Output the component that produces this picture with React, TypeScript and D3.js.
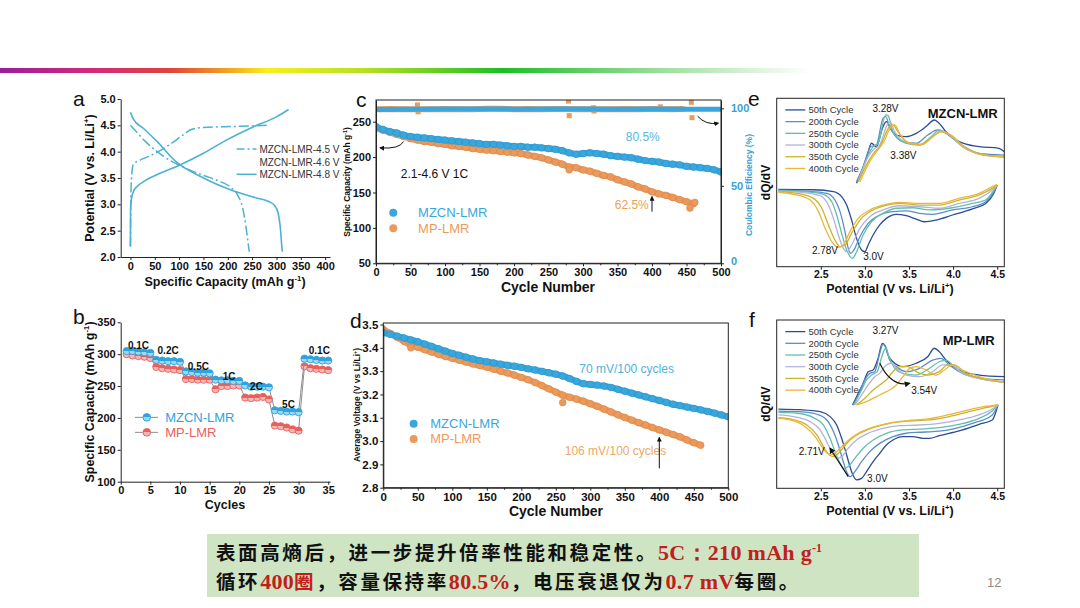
import { useEffect, useRef } from 'react';
import * as d3 from 'd3';

type Pt = [number, number];

const SANS = '"Liberation Sans", Arial, sans-serif';
const SERIF = '"Liberation Serif", "Times New Roman", serif';
const CJK = '"Noto Sans CJK SC", sans-serif';

// ---------- a: charge / discharge profiles (mAh/g, V) ----------
const aXTicks = [0, 50, 100, 150, 200, 250, 300, 350, 400];
const aYTicks = [2.0, 2.5, 3.0, 3.5, 4.0, 4.5, 5.0];
const aLegend = ['MZCN-LMR-4.5 V', 'MZCN-LMR-4.6 V', 'MZCN-LMR-4.8 V'];
const a45Charge: Pt[] = [[0, 2.2], [1, 3.2], [3, 3.6], [6, 3.76], [20, 3.84], [40, 3.92], [80, 4.13], [110, 4.33], [125, 4.42], [150, 4.46], [220, 4.48], [280, 4.5]];
const a45Discharge: Pt[] = [[0, 4.5], [10, 4.4], [30, 4.2], [55, 4.0], [80, 3.84], [110, 3.7], [150, 3.55], [180, 3.45], [205, 3.33], [220, 3.18], [230, 2.95], [237, 2.6], [242, 2.25], [244, 2.1]];
const a48Charge: Pt[] = [[0, 2.2], [0.3, 2.9], [2, 3.1], [6, 3.24], [15, 3.35], [27, 3.43], [54, 3.56], [95, 3.72], [150, 3.97], [197, 4.22], [252, 4.47], [300, 4.66], [325, 4.8]];
const a48Discharge: Pt[] = [[0, 4.75], [3, 4.68], [6, 4.62], [27, 4.44], [54, 4.2], [95, 3.8], [150, 3.5], [204, 3.28], [259, 3.12], [285, 3.05], [296, 2.98], [303, 2.85], [308, 2.55], [311, 2.2], [312, 2.1]];

// ---------- b: rate capability ----------
const bXTicks = [0, 5, 10, 15, 20, 25, 30, 35];
const bYTicks = [100, 150, 200, 250, 300, 350];
const bCycles = d3.range(1, 36);
const bMZCN = [305, 305, 304, 303, 302, 291, 290, 289, 289, 288, 273, 272, 271, 271, 270, 260, 259, 259, 258, 258, 251, 249, 249, 249, 248, 212, 211, 210, 210, 209, 293, 292, 291, 290, 290];
const bMP = [300, 298, 297, 296, 294, 280, 278, 277, 276, 275, 261, 261, 260, 260, 260, 245, 250, 250, 251, 251, 232, 231, 232, 233, 229, 188, 187, 185, 182, 180, 281, 278, 277, 276, 275];
const bRates = ['0.1C', '0.2C', '0.5C', '1C', '2C', '5C', '0.1C'];
const bRateAt: Pt[] = [[3, 308.5], [8, 301], [13.1, 275], [18.3, 260], [22.9, 243.5], [28.3, 215], [33.5, 301]];

// ---------- c: cycling at 1C ----------
const cXTicks = [0, 50, 100, 150, 200, 250, 300, 350, 400, 450, 500];
const cYTicks = [50, 100, 150, 200, 250];
const cY2Ticks = [0, 50, 100];
const cCyclesMZCN = d3.range(0, 501, 10);
const cCyclesMP = d3.range(0, 461, 10);
const cCapMZCN = [243, 239, 236, 234, 231, 229, 228, 227, 226, 225, 224, 223, 222, 221, 220, 219, 218, 218, 217, 216, 215, 215, 214, 214, 213, 212, 211, 209, 206, 204, 205, 206, 205, 204, 202, 201, 200, 199, 197, 195, 194, 193, 191, 190, 189, 187, 186, 185, 184, 182, 179];
const cCapMP = [241, 238, 235, 232, 229, 226, 224, 222, 221, 219, 218, 216, 215, 214, 212, 211, 210, 209, 208, 207, 206, 205, 203, 201, 199, 196, 193, 190, 186, 185, 182, 180, 177, 174, 172, 168, 165, 162, 158, 155, 151, 148, 146, 143, 140, 137, 134];
const cCapMPOutliers: Pt[] = [[280, 182], [455, 128], [462, 136]];
const cCeMZCN: Pt[] = [[0, 99.2], [50, 99.5], [100, 99.6], [150, 99.6], [200, 99.5], [250, 99.6], [300, 99.6], [350, 99.5], [400, 99.6], [450, 99.5], [500, 99.4]];
const cCeMP: Pt[] = [[0, 99.4], [20, 99.6], [40, 99.5], [60, 102.2], [61, 97.8], [80, 99.5], [100, 99.6], [120, 99.5], [140, 99.4], [160, 99.8], [180, 99.7], [200, 99.5], [220, 99.6], [240, 99.5], [260, 99.6], [279, 104.7], [280, 95.3], [300, 99.5], [315, 100.4], [316, 98.3], [340, 99.5], [360, 99.6], [380, 99.5], [400, 99.6], [412, 101.0], [430, 99.5], [445, 99.6], [457, 103.9], [458, 94.0]];

// ---------- d: average voltage ----------
const dYTicks = [2.8, 2.9, 3.0, 3.1, 3.2, 3.3, 3.4, 3.5];
const dVoltMZCN = [3.465, 3.458, 3.450, 3.442, 3.434, 3.426, 3.416, 3.406, 3.396, 3.386, 3.376, 3.368, 3.360, 3.352, 3.345, 3.340, 3.335, 3.330, 3.325, 3.321, 3.316, 3.310, 3.305, 3.299, 3.293, 3.287, 3.279, 3.268, 3.256, 3.246, 3.243, 3.240, 3.236, 3.230, 3.222, 3.214, 3.206, 3.198, 3.190, 3.182, 3.174, 3.166, 3.158, 3.152, 3.146, 3.140, 3.134, 3.127, 3.120, 3.112, 3.104];
const dVoltMP = [3.478, 3.462, 3.445, 3.428, 3.412, 3.402, 3.392, 3.382, 3.372, 3.363, 3.355, 3.347, 3.339, 3.331, 3.324, 3.317, 3.309, 3.300, 3.292, 3.283, 3.273, 3.263, 3.251, 3.238, 3.224, 3.210, 3.197, 3.188, 3.180, 3.171, 3.160, 3.149, 3.137, 3.125, 3.113, 3.101, 3.090, 3.079, 3.069, 3.058, 3.048, 3.038, 3.028, 3.018, 3.005, 2.993, 2.982];
const dVoltMPOutliers: Pt[] = [[40, 3.40], [260, 3.165]];

// ---------- e / f: dQ/dV (V, a.u.) ----------
const dqXTicks = [2.5, 3.0, 3.5, 4.0, 4.5];
const dqCycles = ['50th Cycle', '200th Cycle', '250th Cycle', '300th Cycle', '350th Cycle', '400th Cycle'];
const dqColors = ['#2b4c95', '#5b8ec6', '#62bfae', '#b4b2da', '#c9b52a', '#ecb63a'];

const e50Charge: Pt[] = [[2.905, 49.5], [2.962, 56.4], [3.037, 68.3], [3.074, 73.3], [3.130, 71.3], [3.205, 83.2], [3.243, 86.1], [3.299, 81.2], [3.356, 78.2], [3.468, 77.2], [3.581, 79.2], [3.693, 83.2], [3.787, 87.1], [3.843, 85.1], [3.918, 80.2], [4.068, 74.3], [4.294, 71.3], [4.519, 70.3], [4.58, 68.3]];
const e200Charge: Pt[] = [[2.905, 50.5], [3.018, 64.4], [3.063, 71.3], [3.130, 72.3], [3.205, 88.1], [3.235, 89.1], [3.280, 83.2], [3.337, 78.2], [3.431, 74.3], [3.581, 73.3], [3.712, 78.2], [3.825, 81.2], [3.918, 79.2], [4.068, 73.3], [4.294, 67.3], [4.58, 66.3]];
const e250Charge: Pt[] = [[2.924, 50.5], [3.037, 66.3], [3.093, 71.3], [3.149, 73.3], [3.235, 90.1], [3.262, 89.7], [3.318, 80.2], [3.374, 76.2], [3.468, 73.3], [3.618, 72.3], [3.750, 77.2], [3.843, 81.2], [3.956, 78.2], [4.106, 71.3], [4.369, 66.3], [4.58, 65.3]];
const e300Charge: Pt[] = [[2.924, 50.5], [3.037, 65.3], [3.112, 70.3], [3.168, 72.3], [3.262, 85.1], [3.288, 85.7], [3.337, 80.2], [3.393, 76.2], [3.506, 73.3], [3.637, 72.3], [3.768, 77.2], [3.862, 80.6], [3.963, 78.2], [4.106, 71.3], [4.369, 66.3], [4.58, 65.3]];
const e350Charge: Pt[] = [[2.924, 50.5], [3.037, 62.4], [3.112, 68.3], [3.168, 71.3], [3.280, 83.2], [3.318, 84.2], [3.374, 80.2], [3.468, 74.3], [3.618, 72.3], [3.768, 77.2], [3.862, 80.2], [3.975, 78.2], [4.143, 70.3], [4.369, 66.3], [4.58, 65.3]];
const e400Charge: Pt[] = [[2.943, 50.5], [3.055, 62.4], [3.130, 68.3], [3.205, 73.3], [3.299, 83.2], [3.337, 84.2], [3.393, 79.2], [3.506, 73.3], [3.656, 72.7], [3.787, 78.2], [3.881, 80.2], [3.993, 77.2], [4.143, 70.3], [4.369, 65.9], [4.58, 65.3]];
const e50Discharge: Pt[] = [[2.02, 45.9], [2.417, 45.7], [2.643, 44.6], [2.736, 41.6], [2.793, 36.6], [2.849, 27.7], [2.905, 16.8], [2.962, 9.9], [2.999, 8.9], [3.037, 12.9], [3.093, 18.8], [3.168, 24.8], [3.243, 28.7], [3.356, 31.1], [3.468, 30.3], [3.581, 28.3], [3.674, 26.7], [3.806, 27.7], [3.993, 30.7], [4.219, 34.3], [4.369, 37.6], [4.462, 43.6], [4.500, 48.5]];
const e200Discharge: Pt[] = [[2.02, 45.5], [2.342, 44.9], [2.568, 43.6], [2.661, 39.6], [2.718, 32.7], [2.774, 20.8], [2.811, 10.9], [2.838, 7.9], [2.875, 9.9], [2.943, 17.8], [3.037, 25.7], [3.168, 30.7], [3.318, 32.7], [3.468, 33.1], [3.618, 31.7], [3.768, 31.1], [3.993, 33.7], [4.219, 35.6], [4.369, 38.6], [4.462, 44.6], [4.500, 48.5]];
const e250Discharge: Pt[] = [[2.02, 45.1], [2.305, 44.6], [2.530, 43.0], [2.624, 38.6], [2.680, 30.7], [2.736, 19.8], [2.793, 9.9], [2.860, 5.0], [2.905, 8.9], [2.980, 18.8], [3.074, 26.7], [3.205, 31.7], [3.356, 34.7], [3.543, 35.0], [3.731, 33.7], [3.993, 35.0], [4.219, 37.6], [4.369, 39.6], [4.462, 45.5], [4.500, 48.5]];
const e300Discharge: Pt[] = [[2.02, 44.9], [2.267, 44.2], [2.492, 42.2], [2.586, 36.6], [2.643, 28.7], [2.699, 18.8], [2.755, 10.9], [2.793, 8.9], [2.849, 12.9], [2.943, 22.8], [3.055, 29.7], [3.205, 33.7], [3.393, 36.2], [3.618, 35.6], [3.843, 34.7], [4.068, 37.6], [4.294, 40.6], [4.444, 45.5], [4.500, 48.5]];
const e350Discharge: Pt[] = [[2.02, 44.6], [2.230, 43.6], [2.417, 40.6], [2.511, 34.7], [2.586, 24.8], [2.661, 15.8], [2.718, 11.9], [2.774, 12.9], [2.849, 19.8], [2.943, 27.7], [3.055, 32.7], [3.205, 36.0], [3.393, 37.6], [3.618, 36.6], [3.843, 36.6], [4.068, 39.6], [4.294, 42.6], [4.444, 46.5], [4.500, 48.5]];
const e400Discharge: Pt[] = [[2.02, 44.2], [2.192, 43.0], [2.380, 39.6], [2.474, 32.7], [2.549, 22.8], [2.624, 14.9], [2.699, 11.5], [2.755, 12.9], [2.830, 20.8], [2.924, 28.7], [3.055, 33.7], [3.205, 36.6], [3.393, 38.2], [3.618, 37.6], [3.843, 37.6], [4.068, 40.6], [4.294, 43.6], [4.444, 47.5], [4.500, 48.9]];

const f50Charge: Pt[] = [[2.860, 49.5], [2.924, 56.4], [2.980, 62.4], [3.037, 69.3], [3.093, 70.3], [3.149, 77.2], [3.198, 86.1], [3.224, 85.1], [3.262, 79.2], [3.318, 75.2], [3.431, 72.3], [3.581, 74.3], [3.712, 78.2], [3.787, 83.2], [3.843, 81.2], [3.918, 76.2], [4.068, 70.3], [4.294, 67.3], [4.58, 66.3]];
const f200Charge: Pt[] = [[2.868, 49.5], [2.943, 57.4], [2.999, 64.4], [3.055, 68.3], [3.112, 69.3], [3.168, 80.2], [3.205, 85.5], [3.243, 83.2], [3.280, 76.2], [3.356, 72.3], [3.468, 69.3], [3.618, 71.3], [3.768, 76.2], [3.862, 77.2], [3.956, 73.3], [4.106, 68.3], [4.331, 65.3], [4.58, 64.4]];
const f250Charge: Pt[] = [[2.875, 49.5], [2.962, 58.4], [3.018, 64.4], [3.074, 67.3], [3.138, 69.3], [3.198, 79.2], [3.235, 83.2], [3.273, 78.2], [3.337, 71.3], [3.431, 68.3], [3.581, 67.3], [3.731, 71.3], [3.843, 75.2], [3.918, 76.2], [4.031, 71.3], [4.219, 66.3], [4.58, 63.0]];
const f300Charge: Pt[] = [[2.886, 49.5], [2.962, 55.4], [3.037, 61.4], [3.112, 66.3], [3.168, 68.3], [3.243, 73.3], [3.299, 74.3], [3.374, 70.3], [3.468, 67.3], [3.618, 66.3], [3.768, 69.3], [3.881, 73.3], [3.975, 73.3], [4.106, 68.3], [4.294, 65.3], [4.58, 63.0]];
const f350Charge: Pt[] = [[2.905, 49.5], [2.999, 53.5], [3.093, 58.4], [3.168, 61.4], [3.243, 64.4], [3.318, 69.3], [3.393, 72.3], [3.487, 72.3], [3.581, 69.3], [3.712, 67.3], [3.843, 69.3], [3.937, 73.3], [4.012, 73.3], [4.143, 68.3], [4.331, 65.3], [4.58, 63.0]];
const f400Charge: Pt[] = [[2.905, 49.5], [3.018, 51.5], [3.130, 54.5], [3.205, 56.4], [3.280, 58.4], [3.356, 61.4], [3.431, 66.3], [3.506, 71.3], [3.581, 72.3], [3.693, 70.3], [3.806, 67.3], [3.900, 70.3], [3.993, 73.3], [4.106, 70.3], [4.294, 66.3], [4.58, 63.0]];
const f50Discharge: Pt[] = [[2.02, 47.1], [2.267, 46.7], [2.492, 45.5], [2.605, 42.6], [2.680, 37.6], [2.736, 29.7], [2.793, 19.8], [2.849, 9.9], [2.905, 5.0], [2.962, 5.9], [3.018, 9.9], [3.093, 15.8], [3.168, 20.8], [3.243, 25.7], [3.318, 28.7], [3.431, 30.7], [3.543, 30.7], [3.656, 29.7], [3.731, 29.7], [3.843, 31.3], [4.068, 34.1], [4.294, 38.0], [4.444, 40.6], [4.508, 49.5]];
const f200Discharge: Pt[] = [[2.02, 45.9], [2.267, 45.5], [2.455, 44.0], [2.568, 40.6], [2.643, 33.7], [2.699, 25.7], [2.755, 15.8], [2.800, 8.9], [2.830, 6.9], [2.886, 9.9], [2.962, 15.8], [3.055, 21.8], [3.168, 26.7], [3.318, 30.7], [3.468, 32.7], [3.618, 33.3], [3.768, 33.7], [3.993, 35.2], [4.219, 38.6], [4.444, 43.6], [4.508, 49.5]];
const f250Discharge: Pt[] = [[2.02, 45.1], [2.230, 44.6], [2.417, 42.0], [2.530, 37.6], [2.605, 29.7], [2.661, 21.8], [2.718, 14.9], [2.763, 11.9], [2.811, 12.9], [2.886, 17.8], [2.980, 23.8], [3.093, 28.7], [3.243, 32.7], [3.431, 34.7], [3.618, 35.2], [3.843, 36.0], [4.068, 38.0], [4.294, 41.6], [4.444, 45.9], [4.508, 49.5]];
const f300Discharge: Pt[] = [[2.02, 43.6], [2.192, 42.6], [2.380, 39.6], [2.492, 34.7], [2.568, 27.7], [2.624, 21.8], [2.680, 17.8], [2.736, 18.8], [2.811, 23.8], [2.905, 28.7], [3.037, 32.7], [3.205, 35.6], [3.393, 37.2], [3.618, 37.6], [3.843, 38.6], [4.068, 40.6], [4.294, 43.6], [4.444, 47.1], [4.508, 49.5]];
const f350Discharge: Pt[] = [[2.02, 42.0], [2.155, 41.2], [2.342, 37.6], [2.455, 31.7], [2.530, 24.8], [2.598, 19.8], [2.650, 18.8], [2.718, 21.8], [2.811, 27.7], [2.943, 32.7], [3.093, 36.0], [3.280, 38.6], [3.506, 40.0], [3.731, 40.6], [3.956, 42.6], [4.181, 45.5], [4.369, 47.9], [4.508, 49.5]];
const f400Discharge: Pt[] = [[2.02, 41.6], [2.155, 40.6], [2.324, 36.6], [2.436, 30.7], [2.511, 24.8], [2.575, 20.8], [2.635, 20.2], [2.699, 22.8], [2.793, 27.7], [2.924, 32.7], [3.074, 36.0], [3.262, 38.6], [3.487, 40.2], [3.712, 41.2], [3.937, 43.6], [4.162, 46.5], [4.350, 48.5], [4.508, 49.5]];

// ---------- summary note ----------
const noteLine1: [string, string][] = [['表面高熵后，进一步提升倍率性能和稳定性。', 'n'], ['5C：210 mAh g', 'r'], ['-1', 'sup']];
const noteLine2: [string, string][] = [['循环', 'n'], ['400', 'r'], ['圈', 'rc'], ['，容量保持率', 'n'], ['80.5%', 'r'], ['，电压衰退仅为', 'n'], ['0.7 mV', 'r'], ['每圈。', 'n']];

const BLUE = '#39a7dd';
const ORANGE = '#ec9a5c';

function richText(parent: any, x: number, y: number, parts: [string, boolean][],
  o: { size: number; weight?: string; fill?: string; anchor?: string; rotate?: boolean }) {
  const t = parent.append('text')
    .attr('x', x).attr('y', y)
    .attr('font-family', SANS)
    .attr('font-size', o.size)
    .attr('font-weight', o.weight ?? 'bold')
    .attr('fill', o.fill ?? '#111')
    .attr('text-anchor', o.anchor ?? 'middle');
  if (o.rotate) t.attr('transform', `rotate(-90 ${x} ${y})`);
  let up = false;
  parts.forEach(([s, sup]) => {
    const sp = t.append('tspan').text(s);
    if (sup) sp.attr('font-size', o.size * 0.62);
    if (sup && !up) { sp.attr('dy', -o.size * 0.38); up = true; }
    else if (!sup && up) { sp.attr('dy', o.size * 0.38); up = false; }
  });
  return t;
}

const styleAxis = (sel: any, size: number, color = '#111') => {
  sel.attr('font-family', SANS).attr('font-size', size).attr('font-weight', 'bold').attr('color', color);
  sel.selectAll('.domain, .tick line').attr('stroke', '#222').attr('stroke-width', 1);
};

export default function App() {
  const svgRef = useRef<SVGSVGElement>(null);

  useEffect(() => {
    if (!svgRef.current) return;
    document.body.style.margin = '0';
    const svg = d3.select(svgRef.current);
    svg.selectAll('*').remove();
    const defs = svg.append('defs');

    // arrow head
    defs.append('marker').attr('id', 'arr').attr('viewBox', '0 0 10 10')
      .attr('refX', 8).attr('refY', 5).attr('markerWidth', 5).attr('markerHeight', 5)
      .attr('orient', 'auto-start-reverse')
      .append('path').attr('d', 'M0,0 L10,5 L0,10 z').attr('fill', '#111');

    // top colour bar
    const bar = defs.append('linearGradient').attr('id', 'topbar');
    [['0', '#9a1e9c'], ['0.12', '#d52a78'], ['0.21', '#e2423a'], ['0.28', '#f2a11e'], ['0.33', '#f6f01c'],
      ['0.45', '#b7df22'], ['0.62', '#1cbf24'], ['0.82', '#9fdf9f'], ['1', '#ffffff']]
      .forEach(([o, c]) => bar.append('stop').attr('offset', o).attr('stop-color', c));
    svg.append('rect').attr('x', 0).attr('y', 68).attr('width', 810).attr('height', 5).attr('fill', 'url(#topbar)');

    const label = (x: number, y: number, s: string) =>
      svg.append('text').attr('x', x).attr('y', y).attr('font-family', SANS).attr('font-size', 21).attr('fill', '#111').text(s);

    // ================= panel a =================
    {
      const x = d3.scaleLinear().domain([-20, 410]).range([120.7, 330]);
      const y = d3.scaleLinear().domain([2, 5]).range([257, 99]);
      const g = svg.append('g');
      g.append('g').attr('transform', `translate(0,${y(2)})`)
        .call(d3.axisBottom(x).tickValues(aXTicks).tickSize(3).tickSizeOuter(0).tickPadding(2))
        .call(styleAxis, 11);
      g.append('g').attr('transform', `translate(${x(-20)},0)`)
        .call(d3.axisLeft(y).tickValues(aYTicks).tickFormat(d3.format('.1f')).tickSize(3).tickSizeOuter(0).tickPadding(2))
        .call(styleAxis, 11);
      const line = d3.line<Pt>().x(d => x(d[0])).y(d => y(d[1])).curve(d3.curveMonotoneX);
      const col = '#4cb2d2';
      [a45Charge, a45Discharge].forEach(d => g.append('path').datum(d).attr('d', line)
        .attr('fill', 'none').attr('stroke', col).attr('stroke-width', 1.5).attr('stroke-dasharray', '10,3,2,3'));
      [a48Charge, a48Discharge].forEach(d => g.append('path').datum(d).attr('d', line)
        .attr('fill', 'none').attr('stroke', col).attr('stroke-width', 1.6));
      // legend
      const ly = [4.05, 3.8, 3.57];
      aLegend.forEach((s, i) => {
        if (i !== 1) g.append('line').attr('x1', x(218)).attr('x2', x(259)).attr('y1', y(ly[i])).attr('y2', y(ly[i]))
          .attr('stroke', col).attr('stroke-width', 1.5).attr('stroke-dasharray', i === 0 ? '8,3,2,3' : null);
        g.append('text').attr('x', x(265)).attr('y', y(ly[i]) + 3.5).attr('font-family', SANS).attr('font-size', 10)
          .attr('fill', '#333').text(s);
      });
      richText(g, 94, 178, [['Potential (V vs. Li/Li', false], ['+', true], [')', false]], { size: 12.5, rotate: true });
      richText(g, 225, 286, [['Specific Capacity (mAh g', false], ['-1', true], [')', false]], { size: 12.5 });
      label(73, 106, 'a');
    }

    // ================= panel b =================
    {
      const x = d3.scaleLinear().domain([0, 35.3]).range([120.7, 330]);
      const y = d3.scaleLinear().domain([100, 350]).range([481.7, 322.3]);
      const g = svg.append('g');
      g.append('g').attr('transform', `translate(0,${y(100)})`)
        .call(d3.axisBottom(x).tickValues(bXTicks).tickSize(3).tickSizeOuter(0).tickPadding(2))
        .call(styleAxis, 11);
      g.append('g').attr('transform', `translate(${x(0)},0)`)
        .call(d3.axisLeft(y).tickValues(bYTicks).tickSize(3).tickSizeOuter(0).tickPadding(2))
        .call(styleAxis, 11);
      const series: [number[], string, string][] = [[bMP, '#e8605c', 'hr'], [bMZCN, '#2ea3e0', 'hb']];
      series.forEach(([vals, c, id]) => {
        const gr = defs.append('linearGradient').attr('id', id).attr('x1', 0).attr('x2', 0).attr('y1', 0).attr('y2', 1);
        gr.append('stop').attr('offset', '0.5').attr('stop-color', c);
        gr.append('stop').attr('offset', '0.5').attr('stop-color', d3.interpolateRgb(c, '#fff')(0.55));
        const pts: Pt[] = bCycles.map((cy, i) => [cy, vals[i]]);
        g.append('path').datum(pts).attr('d', d3.line<Pt>().x(d => x(d[0])).y(d => y(d[1])))
          .attr('fill', 'none').attr('stroke', '#8d8d8d').attr('stroke-width', 1);
        g.selectAll(null).data(pts).enter().append('circle')
          .attr('cx', d => x(d[0])).attr('cy', d => y(d[1])).attr('r', 3.6)
          .attr('fill', `url(#${id})`).attr('stroke', c).attr('stroke-width', 0.9);
      });
      bRates.forEach((s, i) => g.append('text').attr('x', x(bRateAt[i][0])).attr('y', y(bRateAt[i][1]))
        .attr('text-anchor', 'middle').attr('font-family', SANS).attr('font-weight', 'bold').attr('font-size', 10)
        .attr('fill', '#111').text(s));
      // legend
      const leg: [string, string, string, number][] = [['MZCN-LMR', '#2ea3e0', 'hb', 200.9], ['MP-LMR', '#e8605c', 'hr', 177.4]];
      leg.forEach(([s, c, id, v]) => {
        g.append('line').attr('x1', x(2.4)).attr('x2', x(6.3)).attr('y1', y(v)).attr('y2', y(v)).attr('stroke', '#8d8d8d');
        g.append('circle').attr('cx', x(4.4)).attr('cy', y(v)).attr('r', 3.8).attr('fill', `url(#${id})`).attr('stroke', c);
        g.append('text').attr('x', x(7.5)).attr('y', y(v) + 4.5).attr('font-family', SANS).attr('font-size', 13)
          .attr('fill', c).text(s);
      });
      richText(g, 94, 402, [['Specific Capacity (mAh g', false], ['-1', true], [')', false]], { size: 12.5, rotate: true });
      richText(g, 225, 509, [['Cycles', false]], { size: 12.5 });
      label(73, 324, 'b');
    }

    // ================= panel c =================
    {
      const x = d3.scaleLinear().domain([0, 500]).range([376, 721]);
      const y = d3.scaleLinear().domain([50, 280.6]).range([263.3, 100]);
      const y2 = d3.scaleLinear().domain([0, 105.4]).range([263.3, 100]);
      const g = svg.append('g');
      defs.append('clipPath').attr('id', 'clipc').append('rect')
        .attr('x', 376).attr('y', 100).attr('width', 345).attr('height', 163.3);
      const pg = g.append('g').attr('clip-path', 'url(#clipc)');
      // coulombic efficiency
      pg.selectAll(null).data(cCeMP).enter().append('rect')
        .attr('x', d => x(d[0]) - 2.5).attr('y', d => y2(d[1]) - 2.5).attr('width', 5).attr('height', 5).attr('fill', ORANGE);
      pg.append('path').datum(cCeMP.filter(d => Math.abs(d[1] - 99.5) < 0.5))
        .attr('d', d3.line<Pt>().x(d => x(d[0])).y(d => y2(d[1])))
        .attr('fill', 'none').attr('stroke', ORANGE).attr('stroke-width', 6);
      pg.append('path').datum(cCeMZCN).attr('d', d3.line<Pt>().x(d => x(d[0])).y(d => y2(d[1])))
        .attr('fill', 'none').attr('stroke', BLUE).attr('stroke-width', 5);
      // capacity
      const capLine = d3.line<Pt>().x(d => x(d[0])).y(d => y(d[1])).curve(d3.curveMonotoneX);
      const mp: Pt[] = cCyclesMP.map((c, i) => [c, cCapMP[i]]);
      const mz: Pt[] = cCyclesMZCN.map((c, i) => [c, cCapMZCN[i]]);
      pg.append('path').datum(mp).attr('d', capLine).attr('fill', 'none').attr('stroke', ORANGE).attr('stroke-width', 6.5);
      pg.selectAll(null).data([...mp, ...cCapMPOutliers]).enter().append('circle')
        .attr('cx', d => x(d[0])).attr('cy', d => y(d[1])).attr('r', 3.4).attr('fill', ORANGE)
        .attr('stroke', '#d9844a').attr('stroke-width', 0.6);
      pg.append('path').datum(mz).attr('d', capLine).attr('fill', 'none').attr('stroke', BLUE).attr('stroke-width', 6.5);
      pg.selectAll(null).data(mz).enter().append('circle')
        .attr('cx', d => x(d[0])).attr('cy', d => y(d[1])).attr('r', 3.4).attr('fill', BLUE)
        .attr('stroke', '#2b93c8').attr('stroke-width', 0.6);
      // frame & axes
      g.append('rect').attr('x', 376).attr('y', 100).attr('width', 345).attr('height', 163.3)
        .attr('fill', 'none').attr('stroke', '#222');
      g.append('g').attr('transform', `translate(0,${y(50)})`)
        .call(d3.axisBottom(x).tickValues(cXTicks).tickSize(3).tickSizeOuter(0).tickPadding(2))
        .call(styleAxis, 11);
      g.append('g').attr('transform', `translate(0,${y(50)})`)
        .call(d3.axisBottom(x).tickValues(cXTicks.slice(0, -1).map(v => v + 25)).tickSize(2).tickFormat(() => ''))
        .call(styleAxis, 11).select('.domain').remove();
      g.append('g').attr('transform', 'translate(376,0)')
        .call(d3.axisLeft(y).tickValues(cYTicks).tickSize(3).tickSizeOuter(0).tickPadding(2))
        .call(styleAxis, 11);
      const r = g.append('g').attr('transform', 'translate(721,0)')
        .call(d3.axisRight(y2).tickValues(cY2Ticks).tickSize(3).tickSizeOuter(0).tickPadding(7))
        .call(styleAxis, 11, '#3a9fd6');
      r.selectAll('.tick text').filter((d: any) => d === 0).attr('dy', '0.1em');
      // annotations
      g.append('text').attr('x', x(362)).attr('y', y(222)).attr('font-family', SANS).attr('font-size', 12)
        .attr('fill', '#5ab8dc').text('80.5%');
      g.append('text').attr('x', x(346)).attr('y', y(126)).attr('font-family', SANS).attr('font-size', 12)
        .attr('fill', '#eda14f').text('62.5%');
      g.append('line').attr('x1', x(400)).attr('x2', x(400)).attr('y1', y(123)).attr('y2', y(144))
        .attr('stroke', '#111').attr('stroke-width', 1).attr('marker-end', 'url(#arr)');
      g.append('text').attr('x', x(36)).attr('y', y(171)).attr('font-family', SANS).attr('font-size', 12)
        .attr('fill', '#111').text('2.1-4.6 V 1C');
      g.append('path').attr('d', `M${x(40)},${y(222)} Q${x(34)},${y(211)} ${x(6)},${y(213)}`)
        .attr('fill', 'none').attr('stroke', '#111').attr('marker-end', 'url(#arr)');
      g.append('path').attr('d', `M${x(466)},${y2(95)} Q${x(478)},${y2(89)} ${x(496)},${y2(90.5)}`)
        .attr('fill', 'none').attr('stroke', '#111').attr('marker-end', 'url(#arr)');
      const leg: [string, string, number][] = [['MZCN-LMR', BLUE, 121.5], ['MP-LMR', ORANGE, 99.4]];
      leg.forEach(([s, c, v]) => {
        g.append('circle').attr('cx', x(25)).attr('cy', y(v)).attr('r', 4).attr('fill', c);
        g.append('text').attr('x', x(61)).attr('y', y(v) + 4.5).attr('font-family', SANS).attr('font-size', 13)
          .attr('fill', c).text(s);
      });
      richText(g, 350, 182, [['Specific Capacity (mAh g', false], ['-1', true], [')', false]], { size: 8.5, rotate: true });
      richText(g, 752, 185, [['Coulombic Efficiency (%)', false]], { size: 8.5, rotate: true, fill: '#3a9fd6' });
      richText(g, 548, 292, [['Cycle Number', false]], { size: 14 });
      label(356, 107, 'c');
    }

    // ================= panel d =================
    {
      const x = d3.scaleLinear().domain([0, 500]).range([383.3, 728.3]);
      const y = d3.scaleLinear().domain([2.8, 3.5]).range([487.7, 324.5]);
      const g = svg.append('g');
      defs.append('clipPath').attr('id', 'clipd').append('rect')
        .attr('x', 383.3).attr('y', 323).attr('width', 345).attr('height', 164.7);
      const pg = g.append('g').attr('clip-path', 'url(#clipd)');
      const vLine = d3.line<Pt>().x(d => x(d[0])).y(d => y(d[1])).curve(d3.curveMonotoneX);
      const mp: Pt[] = cCyclesMP.map((c, i) => [c, dVoltMP[i]]);
      const mz: Pt[] = cCyclesMZCN.map((c, i) => [c, dVoltMZCN[i]]);
      pg.append('path').datum(mp).attr('d', vLine).attr('fill', 'none').attr('stroke', ORANGE).attr('stroke-width', 6.5);
      pg.selectAll(null).data([...mp, ...dVoltMPOutliers]).enter().append('circle')
        .attr('cx', d => x(d[0])).attr('cy', d => y(d[1])).attr('r', 3.4).attr('fill', ORANGE)
        .attr('stroke', '#d9844a').attr('stroke-width', 0.6);
      pg.append('path').datum(mz).attr('d', vLine).attr('fill', 'none').attr('stroke', BLUE).attr('stroke-width', 6.5);
      pg.selectAll(null).data(mz).enter().append('circle')
        .attr('cx', d => x(d[0])).attr('cy', d => y(d[1])).attr('r', 3.4).attr('fill', BLUE)
        .attr('stroke', '#2b93c8').attr('stroke-width', 0.6);
      g.append('rect').attr('x', 383.3).attr('y', 323).attr('width', 345).attr('height', 164.7)
        .attr('fill', 'none').attr('stroke', '#222');
      g.append('g').attr('transform', `translate(0,${y(2.8)})`)
        .call(d3.axisBottom(x).tickValues(cXTicks).tickSize(3).tickSizeOuter(0).tickPadding(2))
        .call(styleAxis, 11.5);
      g.append('g').attr('transform', `translate(0,${y(2.8)})`)
        .call(d3.axisBottom(x).tickValues(cXTicks.slice(0, -1).map(v => v + 25)).tickSize(2).tickFormat(() => ''))
        .call(styleAxis, 11.5).select('.domain').remove();
      g.append('g').attr('transform', 'translate(383.3,0)')
        .call(d3.axisLeft(y).tickValues(dYTicks).tickFormat(d3.format('.1f')).tickSize(3).tickSizeOuter(0).tickPadding(2))
        .call(styleAxis, 11.5);
      g.append('text').attr('x', x(284)).attr('y', y(3.313) + 4.5).attr('font-family', SANS).attr('font-size', 12)
        .attr('fill', '#4fb3da').text('70 mV/100 cycles');
      g.append('text').attr('x', x(263)).attr('y', y(2.958) + 4.5).attr('font-family', SANS).attr('font-size', 12)
        .attr('fill', '#eda865').text('106 mV/100 cycles');
      g.append('line').attr('x1', x(400)).attr('x2', x(400)).attr('y1', y(2.883)).attr('y2', y(3.015))
        .attr('stroke', '#111').attr('marker-end', 'url(#arr)');
      const leg: [string, string, number][] = [['MZCN-LMR', BLUE, 3.074], ['MP-LMR', ORANGE, 3.009]];
      leg.forEach(([s, c, v]) => {
        g.append('circle').attr('cx', x(44)).attr('cy', y(v)).attr('r', 4).attr('fill', c);
        g.append('text').attr('x', x(68)).attr('y', y(v) + 4.5).attr('font-family', SANS).attr('font-size', 13)
          .attr('fill', c).text(s);
      });
      richText(g, 360, 405, [['Average Voltage (V vs Li/Li', false], ['+', true], [')', false]], { size: 8.5, rotate: true });
      richText(g, 556, 516, [['Cycle Number', false]], { size: 14 });
      label(350, 328, 'd');
    }

    // ================= panels e / f (dQ/dV) =================
    const drawDq = (top: number, bottom: number, id: string, charge: Pt[][], discharge: Pt[][]) => {
      const x = d3.scaleLinear().domain([2.0, 4.58]).range([776.7, 1004.3]);
      const y = d3.scaleLinear().domain([0, 100]).range([bottom, top]);
      const g = svg.append('g');
      defs.append('clipPath').attr('id', id).append('rect')
        .attr('x', 776.7).attr('y', top).attr('width', 227.6).attr('height', bottom - top);
      const pg = g.append('g').attr('clip-path', `url(#${id})`);
      const line = d3.line<Pt>().x(d => x(d[0])).y(d => y(d[1])).curve(d3.curveMonotoneX);
      dqColors.forEach((c, i) => {
        [charge[i], discharge[i]].forEach(d => pg.append('path').datum(d).attr('d', line)
          .attr('fill', 'none').attr('stroke', c).attr('stroke-width', 1.3));
      });
      g.append('rect').attr('x', 776.7).attr('y', top).attr('width', 227.6).attr('height', bottom - top)
        .attr('fill', 'none').attr('stroke', '#222');
      g.append('g').attr('transform', `translate(0,${bottom})`)
        .call(d3.axisBottom(x).tickValues(dqXTicks).tickFormat(d3.format('.1f')).tickSize(3).tickSizeOuter(0).tickPadding(1))
        .call(styleAxis, 10.5).select('.domain').remove();
      // legend
      dqCycles.forEach((s, i) => {
        const v = 93.1 - i * 6.95;
        g.append('line').attr('x1', x(2.098)).attr('x2', x(2.324)).attr('y1', y(v)).attr('y2', y(v))
          .attr('stroke', dqColors[i]).attr('stroke-width', 1.3);
        g.append('text').attr('x', x(2.361)).attr('y', y(v) + 3.3).attr('font-family', SANS).attr('font-size', 9.5)
          .attr('fill', '#333').text(s);
      });
      richText(g, 770, (top + bottom) / 2, [['dQ/dV', false]], { size: 12, rotate: true });
      richText(g, 890, bottom + 26.5, [['Potential (V vs. Li/Li', false], ['+', true], [')', false]], { size: 12.5 });
      return { g, x, y };
    };

    {
      const { g, x, y } = drawDq(98.3, 266.7, 'clipe',
        [e50Charge, e200Charge, e250Charge, e300Charge, e350Charge, e400Charge],
        [e50Discharge, e200Discharge, e250Discharge, e300Discharge, e350Discharge, e400Discharge]);
      const t = (v: number, a: number, s: string, size = 10, w = 'normal') => g.append('text')
        .attr('x', x(v)).attr('y', y(a) + size * 0.35).attr('font-family', SANS).attr('font-size', size)
        .attr('font-weight', w).attr('fill', '#111').text(s);
      t(3.085, 94, '3.28V');
      t(3.288, 66.3, '3.38V');
      t(2.399, 9.9, '2.78V');
      t(2.98, 5.9, '3.0V');
      t(3.712, 91, 'MZCN-LMR', 13, 'bold');
      label(748, 106, 'e');
    }
    {
      const { g, x, y } = drawDq(320, 488.3, 'clipf',
        [f50Charge, f200Charge, f250Charge, f300Charge, f350Charge, f400Charge],
        [f50Discharge, f200Discharge, f250Discharge, f300Discharge, f350Discharge, f400Discharge]);
      const t = (v: number, a: number, s: string, size = 10, w = 'normal') => g.append('text')
        .attr('x', x(v)).attr('y', y(a) + size * 0.35).attr('font-family', SANS).attr('font-size', size)
        .attr('font-weight', w).attr('fill', '#111').text(s);
      t(3.085, 93.5, '3.27V');
      t(3.524, 58.4, '3.54V');
      t(2.249, 21.8, '2.71V');
      t(3.025, 5.9, '3.0V');
      t(3.881, 88.1, 'MP-LMR', 13, 'bold');
      g.append('path').attr('d', `M${x(3.168)},${y(74.3)} Q${x(3.3)},${y(60)} ${x(3.506)},${y(62.4)}`)
        .attr('fill', 'none').attr('stroke', '#111').attr('stroke-width', 1.2).attr('marker-end', 'url(#arr)');
      g.append('line').attr('x1', x(2.811)).attr('y1', y(6.9)).attr('x2', x(2.605)).attr('y2', y(23.8))
        .attr('stroke', '#111').attr('stroke-width', 1.2).attr('marker-end', 'url(#arr)');
      label(749, 327, 'f');
    }

    // ================= summary box =================
    svg.append('rect').attr('x', 207).attr('y', 534).attr('width', 712).attr('height', 63).attr('fill', '#cfe4c2');
    const note = (y: number, parts: [string, string][]) => {
      const t = svg.append('text').attr('x', 216).attr('y', y).attr('font-family', CJK)
        .attr('font-weight', 'bold').attr('font-size', 19.5).attr('letter-spacing', 2.6).attr('fill', '#111');
      parts.forEach(([s, k]) => {
        const sp = t.append('tspan').text(s);
        if (k === 'r') sp.attr('font-family', SERIF).attr('font-size', 22).attr('letter-spacing', 0.3).attr('fill', '#c0201c');
        if (k === 'rc') sp.attr('fill', '#c0201c');
        if (k === 'sup') sp.attr('font-family', SERIF).attr('font-size', 12).attr('letter-spacing', 0).attr('fill', '#c0201c').attr('dy', -8);
      });
    };
    note(560, noteLine1);
    note(588.5, noteLine2);
    svg.append('text').attr('x', 987).attr('y', 587).attr('font-family', SANS).attr('font-size', 13)
      .attr('fill', '#8c8c8c').text('12');
  }, []);

  return <svg ref={svgRef} width={1080} height={608} style={{ display: 'block', background: '#fff' }} />;
}
